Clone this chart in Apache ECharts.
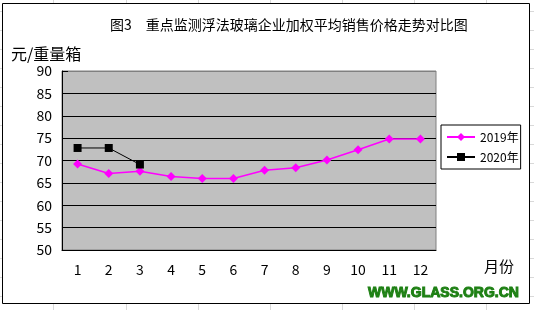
<!DOCTYPE html>
<html>
<head>
<meta charset="utf-8">
<script src="https://cdn.jsdelivr.net/npm/echarts@6/dist/echarts.min.js"></script>
<style>
html,body{margin:0;padding:0;background:#fff;}
#main{width:534px;height:310px;}
</style>
</head>
<body>
<div id="main"></div>
<script>
var months = ['1','2','3','4','5','6','7','8','9','10','11','12'];
var values2019 = [69.2, 67.1, 67.6, 66.4, 66.0, 66.0, 67.8, 68.4, 70.1, 72.4, 74.8, 74.8];
var values2020 = [72.8, 72.8, 69.1];
var seriesNames = ['2019年', '2020年'];
var titleText = '图3\u3000重点监测浮法玻璃企业加权平均销售价格走势对比图';
var yUnit = '元/重量箱';
var xUnit = '月份';
var watermark = 'WWW.GLASS.ORG.CN';

var cjk = '"Noto Sans CJK SC", sans-serif';

// Spreadsheet background grid (decoration outside the chart frame)
var bg = [];
[53,126,198,270,342,414,486].forEach(function(x){
  bg.push({type:'line', z:-30, silent:true, shape:{x1:x+0.5,y1:0,x2:x+0.5,y2:310}, style:{stroke:'#d9d9d9', lineWidth:1}});
});
for (var y = 11; y < 310; y += 19) {
  bg.push({type:'line', z:-30, silent:true, shape:{x1:0,y1:y+0.5,x2:534,y2:y+0.5}, style:{stroke:'#d9d9d9', lineWidth:1}});
}
bg.push({type:'rect', z:-20, silent:true, shape:{x:2.5,y:3.5,width:527,height:300}, style:{fill:'#fff', stroke:'#000', lineWidth:1}});

var chart = echarts.init(document.getElementById('main'));
chart.setOption({
  backgroundColor: '#fff',
  animation: false,
  graphic: bg,
  title: [
    {text: titleText, left: 105, top: 13, textStyle:{fontFamily: cjk, fontSize: 14, fontWeight:'normal', color:'#000'}},
    {text: yUnit, left: 6, top: 41, textStyle:{fontFamily: cjk, fontSize: 16, fontWeight:'normal', color:'#000'}},
    {text: xUnit, left: 479, top: 254, textStyle:{fontFamily: cjk, fontSize: 15, fontWeight:'normal', color:'#000'}},
    {text: watermark, left: 363, top: 281, textStyle:{fontFamily: '"Liberation Sans", Arial, sans-serif', fontSize: 14, fontWeight:'bold', color:'#1e8014', textBorderColor:'#1e8014', textBorderWidth:1}}
  ],
  legend: {
    orient: 'vertical',
    left: 441, top: 125,
    padding: [6, 2, 6, 5],
    itemGap: 8,
    itemWidth: 28,
    itemHeight: 10,
    backgroundColor: '#fff',
    borderColor: '#000',
    borderWidth: 1,
    borderRadius: 0,
    textStyle: {fontFamily: cjk, fontSize: 12, color:'#000'},
    data: seriesNames
  },
  grid: {
    left: 62, top: 71, right: 98, bottom: 60,
    show: true, backgroundColor: '#c0c0c0', borderColor: '#808080', borderWidth: 1
  },
  xAxis: {
    type: 'category',
    data: months,
    boundaryGap: true,
    axisLine: {lineStyle:{color:'#000', width:1}},
    axisTick: {inside: true, length: 6, lineStyle:{color:'#000'}},
    axisLabel: {fontFamily: cjk, fontSize: 14, color:'#000', margin: 13},
    splitLine: {show:false}
  },
  yAxis: {
    type: 'value',
    min: 50, max: 90, interval: 5,
    axisLine: {show:true, lineStyle:{color:'#000', width:1}},
    axisTick: {show:true, inside: true, length: 6, lineStyle:{color:'#000'}},
    axisLabel: {fontFamily: cjk, fontSize: 14, color:'#000', margin: 10},
    splitLine: {show:true, lineStyle:{color:['#000','#000','#000','#000','#000','#000','#000','#000','#808080'], width:1}}
  },
  series: [
    {
      name: seriesNames[0], type: 'line', data: values2019,
      symbol: 'diamond', symbolSize: 9,
      lineStyle: {color:'#ff00ff', width: 1.5},
      itemStyle: {color:'#ff00ff'}
    },
    {
      name: seriesNames[1], type: 'line', data: values2020,
      symbol: 'rect', symbolSize: 8,
      lineStyle: {color:'#000', width: 1},
      itemStyle: {color:'#000'}
    }
  ]
});
</script>
</body>
</html>
